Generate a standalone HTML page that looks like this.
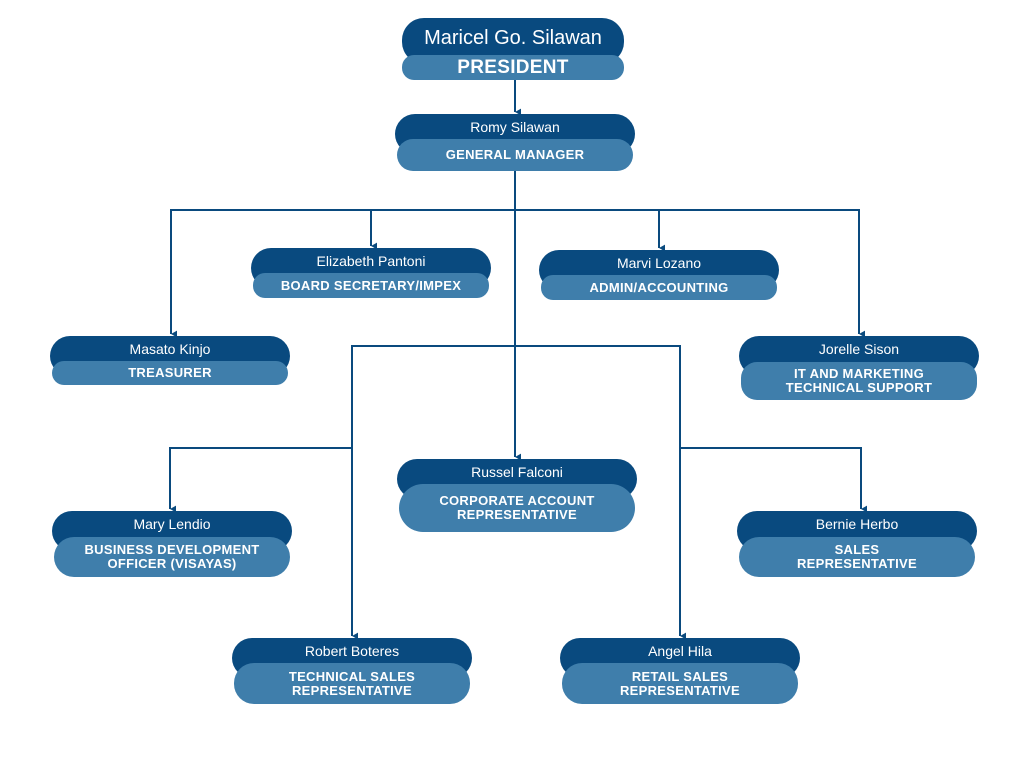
<!DOCTYPE html>
<html><head><meta charset="utf-8"><style>
body{margin:0;width:1024px;height:768px;background:#fff;position:relative;overflow:hidden;font-family:"Liberation Sans",sans-serif}
.d,.l{position:absolute;box-sizing:border-box;color:#fff;text-align:center;display:flex;align-items:center;justify-content:center}
.d{background:#094a7f;border-radius:20px;font-size:14px;align-items:flex-start;padding-top:5px}
.l{background:#3f7eab;border-radius:16px;font-size:13px;font-weight:bold;line-height:14px;letter-spacing:0.3px}
svg{position:absolute;left:0;top:0}
</style></head><body>
<svg width="1024" height="768">
<defs><marker id="a" markerWidth="8" markerHeight="8" refX="4" refY="6" orient="auto" markerUnits="userSpaceOnUse"><path d="M0,0 L8,0 L4,7 z" fill="#0a4a7e" transform="translate(0,-1)"/></marker></defs>
<g stroke="#0a4a7e" stroke-width="2" fill="none">
<line x1="515" y1="80" x2="515" y2="112" marker-end="url(#a)"/>
<line x1="515" y1="171" x2="515" y2="457" marker-end="url(#a)"/>
<line x1="170" y1="210" x2="860" y2="210"/>
<line x1="171" y1="210" x2="171" y2="334" marker-end="url(#a)"/>
<line x1="371" y1="210" x2="371" y2="246" marker-end="url(#a)"/>
<line x1="659" y1="210" x2="659" y2="248" marker-end="url(#a)"/>
<line x1="859" y1="210" x2="859" y2="334" marker-end="url(#a)"/>
<line x1="351" y1="346" x2="681" y2="346"/>
<line x1="352" y1="346" x2="352" y2="636" marker-end="url(#a)"/>
<line x1="680" y1="346" x2="680" y2="636" marker-end="url(#a)"/>
<line x1="169" y1="448" x2="352" y2="448"/>
<line x1="170" y1="448" x2="170" y2="509" marker-end="url(#a)"/>
<line x1="680" y1="448" x2="862" y2="448"/>
<line x1="861" y1="448" x2="861" y2="509" marker-end="url(#a)"/>
</g></svg>

<div class="d" style="left:402px;top:18px;width:222px;height:46px;font-size:20px;padding-top:9px;border-radius:22px">Maricel Go. Silawan</div>
<div class="l" style="left:402px;top:55px;width:222px;height:25px;font-size:19px;border-radius:12px">PRESIDENT</div>

<div class="d" style="left:395px;top:114px;width:240px;height:40px">Romy Silawan</div>
<div class="l" style="left:397px;top:139px;width:236px;height:32px">GENERAL MANAGER</div>

<div class="d" style="left:251px;top:248px;width:240px;height:40px">Elizabeth Pantoni</div>
<div class="l" style="left:253px;top:273px;width:236px;height:25px;border-radius:12px">BOARD SECRETARY/IMPEX</div>

<div class="d" style="left:539px;top:250px;width:240px;height:40px">Marvi Lozano</div>
<div class="l" style="left:541px;top:275px;width:236px;height:25px;border-radius:12px">ADMIN/ACCOUNTING</div>

<div class="d" style="left:50px;top:336px;width:240px;height:40px">Masato Kinjo</div>
<div class="l" style="left:52px;top:361px;width:236px;height:24px;border-radius:12px">TREASURER</div>

<div class="d" style="left:739px;top:336px;width:240px;height:40px">Jorelle Sison</div>
<div class="l" style="left:741px;top:362px;width:236px;height:38px">IT AND MARKETING<br>TECHNICAL SUPPORT</div>

<div class="d" style="left:397px;top:459px;width:240px;height:40px">Russel Falconi</div>
<div class="l" style="left:399px;top:484px;width:236px;height:48px;border-radius:24px">CORPORATE ACCOUNT<br>REPRESENTATIVE</div>

<div class="d" style="left:52px;top:511px;width:240px;height:40px">Mary Lendio</div>
<div class="l" style="left:54px;top:537px;width:236px;height:40px;border-radius:20px">BUSINESS DEVELOPMENT<br>OFFICER (VISAYAS)</div>

<div class="d" style="left:737px;top:511px;width:240px;height:40px">Bernie Herbo</div>
<div class="l" style="left:739px;top:537px;width:236px;height:40px;border-radius:20px">SALES<br>REPRESENTATIVE</div>

<div class="d" style="left:232px;top:638px;width:240px;height:40px">Robert Boteres</div>
<div class="l" style="left:234px;top:663px;width:236px;height:41px;border-radius:20px">TECHNICAL SALES<br>REPRESENTATIVE</div>

<div class="d" style="left:560px;top:638px;width:240px;height:40px">Angel Hila</div>
<div class="l" style="left:562px;top:663px;width:236px;height:41px;border-radius:20px">RETAIL SALES<br>REPRESENTATIVE</div>
</body></html>
